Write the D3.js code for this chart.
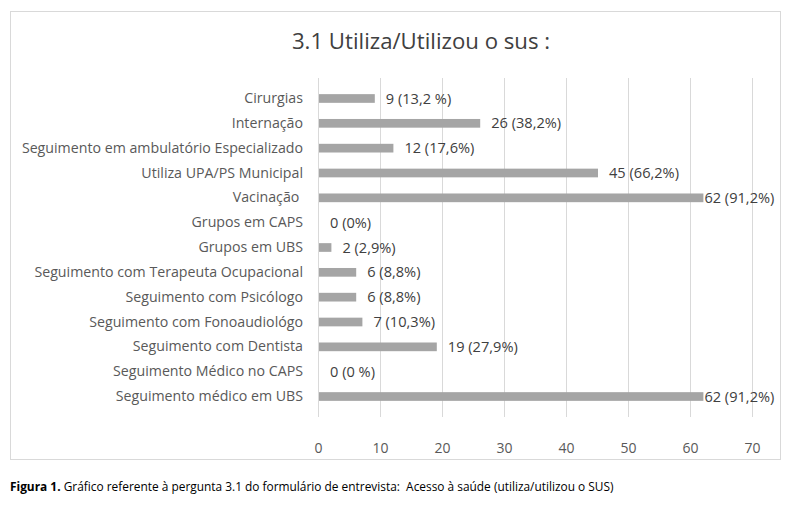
<!DOCTYPE html>
<html>
<head>
<meta charset="utf-8">
<script src="https://cdn.jsdelivr.net/npm/d3@7"></script>
<style>
  body { margin: 0; background: #fff; }
  svg text { font-family: "Open Sans", sans-serif; }
</style>
</head>
<body>
<div class="chart"></div>
<script>
// --- data
const categories = [
  "Cirurgias",
  "Internação",
  "Seguimento em ambulatório Especializado",
  "Utiliza UPA/PS Municipal",
  "Vacinação ",
  "Grupos em CAPS",
  "Grupos em UBS",
  "Seguimento com Terapeuta Ocupacional",
  "Seguimento com Psicólogo",
  "Seguimento com Fonoaudiológo",
  "Seguimento com Dentista",
  "Seguimento Médico no CAPS",
  "Seguimento médico em UBS"
];
const values = [9, 26, 12, 45, 62, 0, 2, 6, 6, 7, 19, 0, 62];
const valueLabels = [
  "9 (13,2 %)", "26 (38,2%)", "12 (17,6%)", "45 (66,2%)", "62 (91,2%)",
  "0 (0%)", "2 (2,9%)", "6 (8,8%)", "6 (8,8%)", "7 (10,3%)",
  "19 (27,9%)", "0 (0 %)", "62 (91,2%)"
];
const xTicks = [0, 10, 20, 30, 40, 50, 60, 70];

const title = "3.1 Utiliza/Utilizou o sus :";
const captionBold = "Figura 1.";
const captionText = " Gráfico referente à pergunta 3.1 do formulário de entrevista:  Acesso à saúde (utiliza/utilizou o SUS)";

// --- layout
const width = 793, height = 505;
const frame = {left: 10.5, top: 11.5, right: 780.5, bottom: 459.5};
const plot = {left: 318, right: 752, top: 78, bottom: 417};

const svg = d3.select(".chart").append("svg")
  .attr("width", width)
  .attr("height", height);

svg.append("rect")
  .attr("x", frame.left).attr("y", frame.top)
  .attr("width", frame.right - frame.left)
  .attr("height", frame.bottom - frame.top)
  .attr("fill", "#fff")
  .attr("stroke", "#d9d9d9");

const x = d3.scaleLinear().domain([0, 70]).range([plot.left, plot.right]);
const y = d3.scaleBand().domain(categories).range([plot.top, plot.bottom]).padding(0.65);

// gridlines
svg.append("g").selectAll("line")
  .data(xTicks)
  .enter().append("line")
  .attr("x1", d => x(d) + 0.5).attr("x2", d => x(d) + 0.5)
  .attr("y1", plot.top).attr("y2", plot.bottom)
  .attr("stroke", "#d9d9d9");

// x axis labels
svg.append("g")
  .attr("transform", `translate(0, ${plot.bottom + 26})`)
  .call(d3.axisBottom(x).tickValues(xTicks).tickSize(0).tickPadding(0))
  .call(g => g.select(".domain").remove())
  .call(g => g.selectAll("text")
    .attr("fill", "#595959")
    .attr("font-size", "14px")
    .attr("font-family", "Open Sans, sans-serif"));

// category labels
svg.append("g")
  .attr("transform", `translate(${plot.left - 15}, 0)`)
  .call(d3.axisLeft(y).tickSize(0).tickPadding(0))
  .call(g => g.select(".domain").remove())
  .call(g => g.selectAll("text")
    .attr("fill", "#595959")
    .attr("font-size", "14.2px")
    .attr("font-family", "Open Sans, sans-serif")
    .style("white-space", "pre"));

// bars
svg.append("g").selectAll("rect")
  .data(values)
  .enter().append("rect")
  .attr("x", x(0) + 1)
  .attr("y", (d, i) => y(categories[i]))
  .attr("width", d => Math.max(0, x(d) - x(0)))
  .attr("height", y.bandwidth())
  .attr("fill", "#a5a5a5");

// value labels
svg.append("g").selectAll("text")
  .data(values)
  .enter().append("text")
  .attr("x", d => {
    const gap = x(d) + 12 + 72 > frame.right ? 2 : 12;
    return x(d) + gap;
  })
  .attr("y", (d, i) => y(categories[i]) + y.bandwidth() / 2)
  .attr("dy", "0.35em")
  .attr("fill", "#404040")
  .attr("font-size", "14.6px")
  .text((d, i) => valueLabels[i]);

// title
svg.append("text")
  .attr("x", 421)
  .attr("y", 49)
  .attr("text-anchor", "middle")
  .attr("fill", "#404040")
  .attr("font-size", "22.2px")
  .text(title);

// caption
const caption = svg.append("text")
  .attr("x", 10)
  .attr("y", 491)
  .attr("fill", "#000")
  .attr("font-size", "11.9px");
caption.append("tspan").attr("font-weight", "bold").text(captionBold);
caption.append("tspan").style("white-space", "pre").text(captionText);
</script>
</body>
</html>
